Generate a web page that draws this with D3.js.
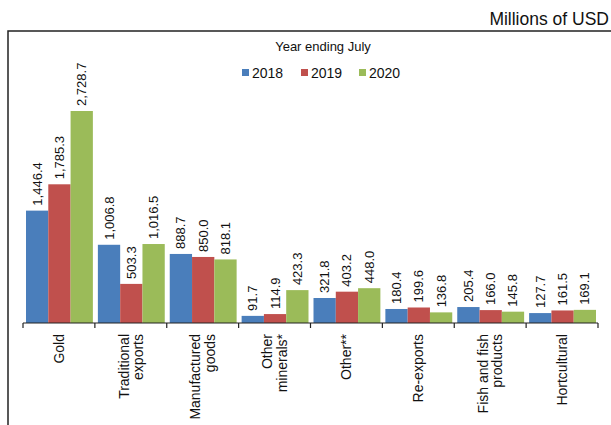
<!DOCTYPE html>
<html><head><meta charset="utf-8">
<script src="https://cdn.jsdelivr.net/npm/d3@7"></script>
<style>body{margin:0;background:#fff;font-family:"Liberation Sans",Arial,sans-serif}</style>
</head><body><svg id="c" width="611" height="425"></svg>
<script>
'use strict';
const categories = [['Gold'], ['Traditional', 'exports'], ['Manufactured', 'goods'], ['Other', 'minerals*'],
    ['Other**'], ['Re-exports'], ['Fish and fish', 'products'], ['Hortcultural']];
const years = ['2018', '2019', '2020'];
const v2018 = [1446.4, 1006.8, 888.7, 91.7, 321.8, 180.4, 205.4, 127.7];
const v2019 = [1785.3, 503.3, 850.0, 114.9, 403.2, 199.6, 166.0, 161.5];
const v2020 = [2728.7, 1016.5, 818.1, 423.3, 448.0, 136.8, 145.8, 169.1];
const colors = ['#4a7ebb', '#c0504d', '#9bbb59'];

const series = [v2018, v2019, v2020];
const svg = d3.select('#c');
const base = 323;

svg.append('rect').attr('x', 8).attr('y', 31).attr('width', 620).attr('height', 420)
    .attr('fill', 'none').attr('stroke', '#222').attr('stroke-width', 1.5);
svg.append('text').attr('x', 609).attr('y', 25).attr('text-anchor', 'end')
    .attr('font-size', 17.5).attr('fill', '#111').text('Millions of USD');
svg.append('text').attr('x', 323).attr('y', 51).attr('text-anchor', 'middle')
    .attr('font-size', 13).attr('fill', '#111').text('Year ending July');

const lx = [242, 301, 359];
years.forEach((yr, i) => {
    svg.append('rect').attr('x', lx[i]).attr('y', 69).attr('width', 7).attr('height', 7).attr('fill', colors[i]);
    svg.append('text').attr('x', lx[i] + 10).attr('y', 77.5).attr('font-size', 14).attr('fill', '#111').text(yr);
});

const x = d3.scaleBand().domain(d3.range(categories.length)).range([23, 598]);
const xi = d3.scaleBand().domain(years).range([3, x.bandwidth() - 2]);
const y = d3.scaleLinear().domain([0, 2728.7]).range([base, 111]);

const g = svg.append('g');
categories.forEach((c, ci) => {
    years.forEach((yr, si) => {
        const val = series[si][ci];
        const bx = x(ci) + xi(yr);
        g.append('rect').attr('x', bx).attr('y', y(val)).attr('width', xi.bandwidth())
            .attr('height', base - y(val)).attr('fill', colors[si]);
        g.append('text').attr('transform', `translate(${bx + xi.bandwidth() / 2 + 4.5},${y(val) - 5}) rotate(-90)`)
            .attr('font-size', 13).attr('fill', '#111').text(d3.format(',.1f')(val));
    });
});

svg.append('line').attr('x1', 23).attr('x2', 598).attr('y1', base).attr('y2', base).attr('stroke', '#222').attr('stroke-width', 1.2);
d3.range(categories.length + 1).forEach(i => {
    const tx = 23 + i * x.bandwidth();
    svg.append('line').attr('x1', tx).attr('x2', tx).attr('y1', base).attr('y2', base + 5).attr('stroke', '#222').attr('stroke-width', 1.2);
});
categories.forEach((c, ci) => {
    const cx = x(ci) + x.bandwidth() / 2;
    const t = svg.append('text').attr('transform', `translate(${cx},334) rotate(-90)`)
        .attr('text-anchor', 'end').attr('font-size', 14).attr('fill', '#111');
    const n = c.length;
    c.forEach((line, li) => {
        t.append('tspan').attr('x', 0).attr('y', 5 + (li - (n - 1) / 2) * 14.5).text(line);
    });
});
</script></body></html>
